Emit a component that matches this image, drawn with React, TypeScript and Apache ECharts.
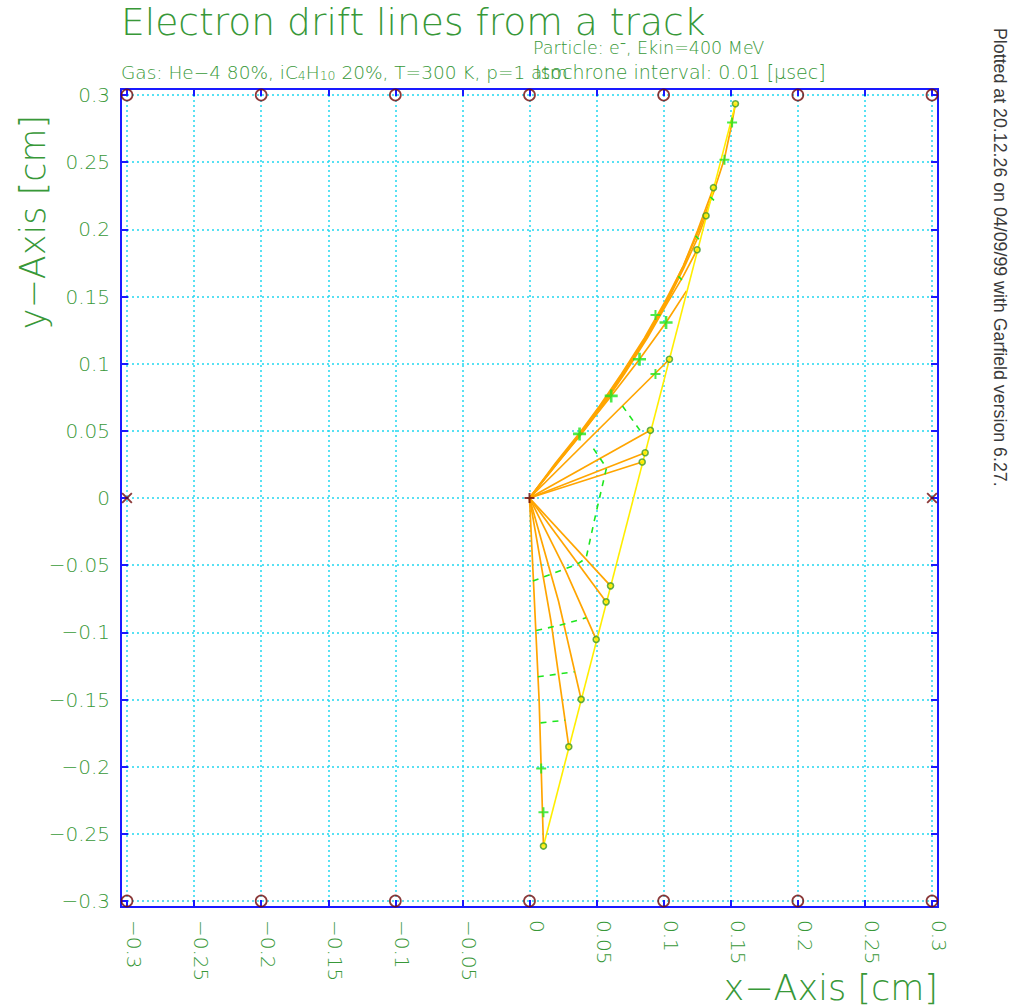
import React, { useEffect, useRef } from "react";
import * as echarts from "echarts";

// ---------- data ----------
const axisMin = -0.3;
const axisMax = 0.3;
const axisStep = 0.05;

const wireX = [-0.3, -0.2, -0.1, 0, 0.1, 0.2, 0.3];
const wireRowY = [0.3, -0.3];
const crossWires = [[-0.3, 0], [0.3, 0]];
const senseWire = [[0, 0]];

const track = [[0.0104, -0.2591], [0.1535, 0.2932]];

// drift lines: first point = start on the track, last point = the wire
const drift01 = [[0.0104, -0.2591], [0.0087, -0.2011], [0.0072, -0.1512], [0, 0]];
const drift02 = [[0.0293, -0.1852], [0.016, -0.0916], [0, 0]];
const drift03 = [[0.0385, -0.1499], [0.0216, -0.0767], [0, 0]];
const drift04 = [[0.0497, -0.1053], [0.0261, -0.0522], [0, 0]];
const drift05 = [[0.0571, -0.0773], [0, 0]];
const drift06 = [[0.0604, -0.0654], [0, 0]];
const drift07 = [[0.084, 0.0268], [0, 0]];
const drift08 = [[0.0862, 0.0337], [0, 0]];
const drift09 = [[0.0901, 0.0504], [0, 0]];
const drift10 = [[0.1043, 0.1033], [0, 0]];
const drift11 = [[0.117, 0.1542], [0.1018, 0.1306], [0.082, 0.1033], [0.0609, 0.076], [0, 0]];
const drift12 = [[0.1249, 0.1848], [0.1147, 0.1654], [0.1028, 0.1453], [0.0879, 0.1192], [0.0708, 0.0924], [0.0544, 0.0685], [0.0387, 0.0477], [0.0209, 0.0261], [0, 0]];
const drift13 = [[0.1316, 0.2101], [0.1244, 0.1915], [0.1147, 0.1706], [0.1028, 0.1468], [0.0872, 0.1192], [0.07, 0.0924], [0.0536, 0.0685], [0.038, 0.0477], [0.0201, 0.0261], [0, 0]];
const drift14 = [[0.1371, 0.231], [0.1252, 0.1989], [0.1147, 0.1728], [0.1021, 0.1468], [0.0864, 0.1192], [0.0693, 0.0924], [0.0529, 0.0685], [0.038, 0.0484], [0.0201, 0.0261], [0, 0]];
const drift15 = [[0.1535, 0.2935], [0.1505, 0.2771], [0.1453, 0.2526], [0.1371, 0.2272], [0.1267, 0.2004], [0.1147, 0.1728], [0.1013, 0.1468], [0.0857, 0.1192], [0.0685, 0.0924], [0.0522, 0.0685], [0.0373, 0.0484], [0.0194, 0.0261], [0, 0]];

const driftLines = [drift01, drift02, drift03, drift04, drift05, drift06, drift07, drift08, drift09, drift10, drift11, drift12, drift13, drift14, drift15];
const circledLines = [drift01, drift02, drift03, drift04, drift05, drift06, drift07, drift08, drift09, drift10, drift12, drift13, drift14, drift15];

// isochrones (0.01 microsecond steps)
const iso1 = [[0.0025, -0.0618], [0.0358, -0.0492], [0.0422, -0.0447], [0.0499, -0.0097], [0.0574, 0.0224], [0.0467, 0.0382]];
const iso2Low = [[0.005, -0.0986], [0.0231, -0.0946], [0.0422, -0.0892]];
const iso2Up = [[0.0693, 0.0685], [0.0844, 0.0475]];
const iso3 = [[0.0062, -0.1331], [0.0335, -0.1294]];
const iso4 = [[0.0082, -0.1674], [0.0266, -0.1654]];
const isoTick1 = [[0.111, 0.165], [0.1136, 0.1624]];
const isoTick2 = [[0.1348, 0.2242], [0.1375, 0.2216]];
const isoTick3 = [[0.1237, 0.1952], [0.1263, 0.1926]];
const isochrones = [iso1, iso2Low, iso2Up, iso3, iso4, isoTick1, isoTick2, isoTick3];

const isoPlus = [[0.0087, -0.2014], [0.0104, -0.2339], [0.0939, 0.0924], [0.0939, 0.1363], [0.1453, 0.2518], [0.151, 0.2796]];
const isoPlusBold = [[0.0373, 0.0477], [0.0609, 0.076], [0.082, 0.1033], [0.1018, 0.1306]];

const titleText = "Electron drift lines from a track";
const particleText = "Particle: e\u207B, Ekin=400 MeV";
const gasRich = "{n|Gas: He\u22124 80%, iC}{s|4}{n|H}{s|10}{n| 20%, T=300 K, p=1 atm}";
const isoText = "Isochrone interval: 0.01 [\u03BCsec]";
const xName = "x\u2212Axis [cm]";
const yName = "y\u2212Axis [cm]";
const stampText = "Plotted at 20.12.26 on 04/09/99 with Garfield version 6.27.";

// ---------- styles ----------
const GREEN_TXT = "#389838";
const BLUE = "#1a1aff";
const CYAN = "#22d8f0";
const ORANGE = "#ffa500";
const YELLOW = "#ffee00";
const ISO_GREEN = "#1ee61e";
const WIRE_RED = "#6e0808";
const FONT = "DejaVu Sans";

const PLUS = "path://M4,0h2v4h4v2h-4v4h-2v-4h-4v-2h4z";
const CROSS = "path://M0,1.2L1.2,0L5,3.8L8.8,0L10,1.2L6.2,5L10,8.8L8.8,10L5,6.2L1.2,10L0,8.8L3.8,5z";

const fmt = (v: number) => String(Math.round(v * 100) / 100).replace("-", "\u2212");

export default function App() {
  const ref = useRef<HTMLDivElement>(null);
  useEffect(() => {
    if (!ref.current) return;
    const chart = echarts.init(ref.current, undefined, { renderer: "svg" });

    const tickStyle = { show: true, inside: true, length: 7, lineStyle: { color: BLUE, width: 2 } };
    const baseAxis = {
      type: "value" as const,
      min: axisMin,
      max: axisMax,
      interval: axisStep,
      offset: 6,
      axisLine: { show: false, onZero: false },
      axisTick: tickStyle,
    };

    const wirePts: number[][] = [];
    wireRowY.forEach((y) => wireX.forEach((x) => wirePts.push([x, y])));

    const series: any[] = [];
    driftLines.forEach((d) =>
      series.push({
        type: "line",
        data: d,
        showSymbol: false,
        silent: true,
        lineStyle: { color: ORANGE, width: 1.7 },
        z: 2,
      })
    );
    series.push({
      type: "line",
      data: track,
      showSymbol: false,
      silent: true,
      lineStyle: { color: YELLOW, width: 1.6 },
      z: 3,
    });
    isochrones.forEach((d) =>
      series.push({
        type: "line",
        data: d,
        showSymbol: false,
        silent: true,
        lineStyle: { color: ISO_GREEN, width: 1.6, type: [6, 6] },
        z: 4,
      })
    );
    series.push({
      type: "scatter",
      data: circledLines.map((d) => d[0]),
      symbol: "circle",
      symbolSize: 6,
      silent: true,
      itemStyle: { color: YELLOW, borderColor: "#3d9a2a", borderWidth: 1.6 },
      z: 6,
    });
    series.push({
      type: "scatter",
      data: isoPlus,
      symbol: PLUS,
      symbolSize: 10,
      silent: true,
      itemStyle: { color: ISO_GREEN },
      z: 6,
    });
    series.push({
      type: "scatter",
      data: isoPlusBold,
      symbol: PLUS,
      symbolSize: 13,
      silent: true,
      itemStyle: { color: ISO_GREEN },
      z: 6,
    });
    series.push({
      type: "scatter",
      data: wirePts,
      symbol: "circle",
      symbolSize: 11,
      silent: true,
      itemStyle: { color: "rgba(0,0,0,0)", borderColor: WIRE_RED, borderWidth: 1.7 },
      z: 7,
    });
    series.push({
      type: "scatter",
      data: crossWires,
      symbol: CROSS,
      symbolSize: 11,
      silent: true,
      itemStyle: { color: WIRE_RED },
      z: 7,
    });
    series.push({
      type: "scatter",
      data: senseWire,
      symbol: PLUS,
      symbolSize: 10,
      silent: true,
      itemStyle: { color: WIRE_RED },
      z: 7,
    });

    const txt = (extra: any) => ({ type: "text", silent: true, z: 10, ...extra });
    const tokenFont = (size: number) => ({ fontFamily: FONT, fontWeight: 200, fontSize: size, fill: GREEN_TXT });

    chart.setOption({
      animation: false,
      backgroundColor: "#ffffff",
      grid: { left: 127, right: 85, top: 95, bottom: 106, containLabel: false },
      xAxis: [
        {
          ...baseAxis,
          position: "bottom",
          splitLine: { show: true, lineStyle: { color: CYAN, width: 1.5, type: [2, 3] } },
          axisLabel: {
            show: true,
            rotate: -90,
            margin: 13,
            verticalAlign: "bottom",
            lineHeight: 14,
            formatter: fmt,
            color: GREEN_TXT,
            fontFamily: FONT,
            fontWeight: 200,
            fontSize: 20,
            showMinLabel: true,
            showMaxLabel: true,
          },
        },
        {
          ...baseAxis,
          position: "top",
          splitLine: { show: false },
          axisLabel: { show: false },
        },
      ],
      yAxis: [
        {
          ...baseAxis,
          position: "left",
          splitLine: { show: true, lineStyle: { color: CYAN, width: 1.5, type: [2, 3] } },
          axisLabel: {
            show: true,
            margin: 11,
            formatter: fmt,
            color: GREEN_TXT,
            fontFamily: FONT,
            fontWeight: 200,
            fontSize: 20,
            showMinLabel: true,
            showMaxLabel: true,
          },
        },
        {
          ...baseAxis,
          position: "right",
          splitLine: { show: false },
          axisLabel: { show: false },
        },
      ],
      graphic: [
        {
          type: "rect",
          silent: true,
          z: 5,
          shape: { x: 121, y: 89, width: 817, height: 818 },
          style: { fill: "none", stroke: BLUE, lineWidth: 2 },
        },
        txt({ x: 121, y: 22, style: { text: titleText, fill: GREEN_TXT, font: `200 37.6px '${FONT}'`, textAlign: "left", textVerticalAlign: "middle" } }),
        txt({ x: 533, y: 48, style: { text: particleText, fill: GREEN_TXT, font: `200 17.5px '${FONT}'`, textAlign: "left", textVerticalAlign: "middle" } }),
        txt({
          x: 121,
          y: 72,
          style: {
            text: gasRich,
            textAlign: "left",
            textVerticalAlign: "middle",
            rich: {
              n: { ...tokenFont(18.5) },
              s: { ...tokenFont(12.5), verticalAlign: "bottom", padding: [7, 0, 0, 0] },
            },
          },
        }),
        txt({ x: 535, y: 72, style: { text: isoText, fill: GREEN_TXT, font: `200 19px '${FONT}'`, textAlign: "left", textVerticalAlign: "middle" } }),
        txt({ x: 938, y: 988, style: { text: xName, fill: GREEN_TXT, font: `200 35px '${FONT}'`, textAlign: "right", textVerticalAlign: "middle" } }),
        txt({ x: 33, y: 222, rotation: Math.PI / 2, style: { text: yName, fill: GREEN_TXT, font: `200 35px '${FONT}'`, textAlign: "center", textVerticalAlign: "middle" } }),
        txt({ x: 1000, y: 28, rotation: -Math.PI / 2, style: { text: stampText, fill: "#3a3a3a", font: `17.8px 'Liberation Sans'`, textAlign: "left", textVerticalAlign: "middle" } }),
      ],
      series,
    });
    return () => chart.dispose();
  }, []);

  return <div ref={ref} style={{ width: 1017, height: 1007, position: "absolute", left: 0, top: 0 }} />;
}
